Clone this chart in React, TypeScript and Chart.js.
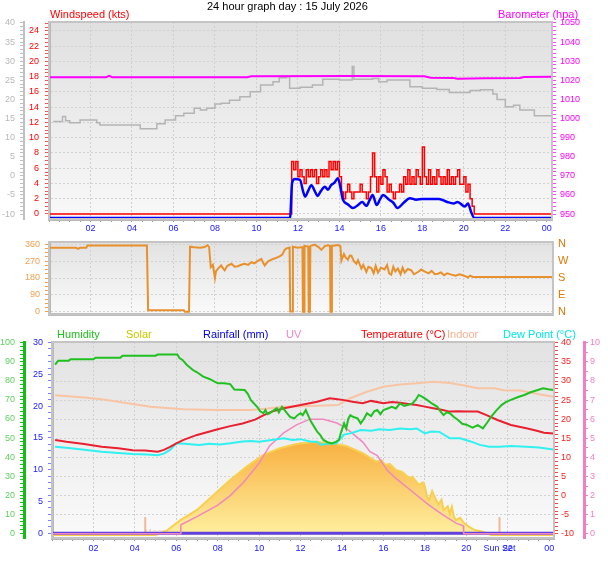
import { useEffect, useRef } from "react";
import { Chart, registerables } from "chart.js";

Chart.register(...registerables);

const FONT = '"Liberation Sans", Arial, Helvetica, sans-serif';

// All readings are [hour of day, value]

// ---- wind / barometer panel ----
const BAROMETER_HPA: [number, number][] = [
  [0, 1021.6], [2.75, 1021.6], [2.9, 1022.3], [3.05, 1021.6], [9.55, 1021.6], [9.75, 1022.1],
  [14.5, 1022.2], [18.1, 1022.1], [18.4, 1021.3], [19.5, 1021.2], [19.7, 1020.8], [21.0, 1021.0],
  [22.7, 1021.2], [22.9, 1021.7], [24.25, 1021.8],
];

// grey trace on the -10..40 scale
const GREY_TRACE: [number, number][] = [
  [0.2, 14.2], [0.55, 14.2], [0.65, 15.5], [0.8, 14.4], [1.0, 13.9], [1.5, 14.6], [2.3, 13.9],
  [2.45, 13.3], [3.3, 13.3], [4.4, 12.3], [5.2, 13.6], [5.6, 14.6], [6.1, 15.7], [6.5, 16.4],
  [7.0, 17.7], [7.3, 17.2], [7.6, 17.7], [8.0, 18.8], [8.3, 19.0], [8.7, 19.8], [9.2, 20.7],
  [9.7, 22.0], [10.2, 23.8], [10.8, 24.6], [11.1, 25.7], [11.45, 25.9], [11.6, 22.9], [12.1, 23.2],
  [12.7, 23.8], [13.2, 25.3], [13.7, 25.3], [14.0, 25.1], [14.55, 25.1], [14.62, 28.6], [14.7, 25.3],
  [15.0, 25.3], [15.6, 25.5], [15.9, 24.6], [16.3, 25.1], [16.9, 25.1], [17.4, 23.3], [18.0, 22.9],
  [18.7, 22.6], [19.3, 21.8], [20.3, 22.3], [20.8, 22.5], [21.4, 21.4], [21.6, 20.0], [22.0, 18.1],
  [22.4, 18.5], [22.7, 17.2], [23.4, 15.7], [24.25, 15.7],
];

// gusts every 6 minutes while the wind blew
const GUST_START = 11.7;
const GUST_STEP = 0.1;
const GUST_KTS = [
  6.9, 5.8, 6.9, 4.9, 5.8, 4.9, 4.0, 5.8, 4.9, 5.8, 4.9, 5.8, 4.0, 4.9, 5.8, 4.9, 5.8, 4.9, 6.9, 5.8,
  6.9, 5.8, 6.9, 4.9, 2.9, 2.0, 2.9, 3.9, 2.9, 2.0, 2.9, 2.9, 2.9, 3.9, 2.9, 2.9, 2.0, 2.9, 4.9, 8.0,
  4.9, 2.9, 4.9, 3.9, 5.8, 4.9, 2.9, 3.9, 2.9, 2.0, 2.9, 2.9, 3.9, 2.9, 4.9, 3.9, 5.8, 3.9, 4.9, 3.9,
  5.8, 4.9, 3.9, 8.8, 4.9, 3.9, 5.8, 3.9, 4.9, 3.9, 5.8, 4.9, 3.9, 4.9, 3.9, 5.8, 3.9, 4.9, 3.9, 4.9,
  5.8, 3.9, 3.9, 4.9, 2.9, 3.9, 2.0, 1.0, 0,
];
const GUST_CALM: [number, number][] = [[0, 0], [11.64, 0]];
const GUST_AFTER: [number, number][] = [[24.25, 0]];

const AVG_KTS: [number, number][] = [
  [0, 0], [11.62, 0], [11.72, 4.6], [11.85, 5.1], [12.1, 5.0], [12.25, 3.5], [12.35, 2.8],
  [12.5, 3.6], [12.65, 4.3], [12.8, 3.6], [12.96, 2.9], [13.1, 3.5], [13.3, 4.1], [13.45, 3.7],
  [13.6, 4.3], [13.75, 4.6], [13.93, 5.2], [14.05, 4.0], [14.17, 2.4], [14.4, 1.8], [14.65, 1.3],
  [14.9, 1.7], [15.1, 2.1], [15.3, 1.6], [15.45, 2.3], [15.6, 3.0], [15.8, 1.7], [15.95, 2.4],
  [16.1, 3.0], [16.4, 2.4], [16.6, 2.0], [16.8, 1.3], [17.1, 2.0], [17.4, 2.6], [17.7, 2.4],
  [18.0, 2.5], [18.5, 2.5], [18.8, 2.5], [19.2, 2.1], [19.5, 1.9], [19.7, 2.1], [20.05, 1.5],
  [20.2, 1.9], [20.35, 0.8], [20.5, 0], [24.25, 0],
];

// ---- wind direction panel ----
const WIND_DIR_DEG: [number, number][] = [
  [0, 342], [1.3, 342], [1.4, 335], [1.5, 342], [1.8, 342], [1.85, 353], [4.72, 353], [4.78, 8],
  [6.5, 8], [6.55, 0], [6.75, 0], [6.8, 347], [7.0, 344], [7.3, 342], [7.5, 345], [7.64, 355],
  [7.72, 345], [7.8, 238], [7.9, 250], [8.0, 180], [8.05, 215], [8.15, 230], [8.3, 247], [8.4, 230],
  [8.47, 221], [8.6, 245], [8.8, 256], [8.95, 240], [9.1, 243], [9.3, 252], [9.44, 256], [9.6, 250],
  [9.76, 264], [9.9, 258], [10.05, 270], [10.24, 282], [10.32, 262], [10.4, 247], [10.55, 268],
  [10.72, 278], [10.9, 285], [11.12, 295], [11.25, 305], [11.36, 330], [11.45, 338], [11.6, 342],
  [11.63, 2], [11.74, 2], [11.76, 347], [12.0, 342], [12.22, 345], [12.24, 0], [12.3, 0], [12.32, 351],
  [12.5, 348], [12.52, 0], [12.58, 0], [12.6, 350], [12.81, 358], [13.0, 345], [13.13, 330],
  [13.3, 350], [13.45, 355], [13.55, 352], [13.57, 0], [13.62, 0], [13.64, 351], [13.93, 356],
  [14.05, 350], [14.1, 273], [14.22, 308], [14.3, 290], [14.41, 278], [14.5, 300], [14.58, 299],
  [14.7, 270], [14.82, 256], [14.9, 275], [15.06, 230], [15.15, 250], [15.3, 212], [15.4, 240],
  [15.54, 233], [15.65, 205], [15.75, 245], [15.86, 209], [16.0, 235], [16.18, 226], [16.3, 250],
  [16.4, 205], [16.5, 198], [16.6, 240], [16.7, 215], [16.82, 230], [16.95, 200], [17.05, 235],
  [17.15, 209], [17.3, 228], [17.47, 221], [17.6, 200], [17.79, 212], [17.95, 225], [18.1, 215],
  [18.3, 205], [18.45, 218], [18.6, 200], [18.75, 203], [18.9, 210], [19.05, 195], [19.2, 205],
  [19.4, 198], [19.6, 192], [19.8, 200], [20.04, 191], [20.2, 183], [20.3, 193], [20.44, 186],
  [24.3, 186],
];
const COMPASS: Record<number, string> = { 0: "N", 90: "E", 180: "S", 270: "W", 360: "N" };

// ---- humidity / temperature panel ----
const HUMIDITY_PCT: [number, number][] = [
  [0.15, 88.5], [0.3, 90.6], [0.8, 90.6], [0.9, 91.3], [2.0, 91.3], [2.1, 92.1], [3.3, 92.1],
  [3.4, 93.2], [5.0, 93.2], [5.1, 93.8], [6.05, 93.8], [6.15, 92], [6.3, 91], [6.5, 88.5], [6.8, 85.7],
  [7.0, 84.5], [7.3, 82.2], [7.6, 81], [8.0, 78.7], [8.3, 78.8], [8.6, 78.3], [8.8, 75.5], [9.3, 75.2],
  [9.45, 73.2], [9.6, 69.9], [9.9, 66.4], [10.05, 64], [10.2, 63], [10.3, 64.7], [10.4, 62.5],
  [10.5, 63], [10.7, 64.5], [10.85, 65.6], [10.95, 63.5], [11.1, 66.4], [11.2, 65], [11.35, 63],
  [11.5, 61], [11.7, 60.3], [11.85, 62], [12.0, 63], [12.1, 62], [12.25, 64.7], [12.4, 61],
  [12.5, 58.6], [12.65, 56], [12.8, 53.3], [12.95, 51.5], [13.1, 49], [13.3, 47.8], [13.5, 47.2],
  [13.7, 48], [13.85, 49], [13.95, 53], [14.1, 57.7], [14.2, 55], [14.3, 60], [14.4, 62], [14.55, 61],
  [14.75, 60.3], [14.9, 57.7], [15.05, 60], [15.2, 63], [15.4, 61.5], [15.55, 64], [15.7, 64.7],
  [15.85, 62.5], [16.0, 64.7], [16.2, 65.5], [16.4, 66.4], [16.6, 65.5], [16.8, 68.2], [17.0, 66.8],
  [17.2, 67.5], [17.4, 68.2], [17.55, 70], [17.7, 72.6], [17.9, 71.5], [18.1, 70], [18.35, 68],
  [18.6, 66.4], [18.75, 64], [18.9, 62], [19.05, 63.5], [19.2, 63], [19.4, 61], [19.6, 59.5],
  [19.8, 57.5], [20.0, 57], [20.3, 55.5], [20.55, 56.8], [20.8, 55.1], [21.0, 58], [21.2, 61.2],
  [21.45, 64.5], [21.7, 67.3], [21.9, 68.8], [22.15, 70], [22.5, 71.5], [22.8, 72.6], [23.1, 74],
  [23.45, 75.2], [23.7, 76.1], [23.95, 75.6], [24.2, 75.2],
];

const TEMPERATURE_C: [number, number][] = [
  [0.15, 14.6], [0.7, 14.1], [1.55, 13.5], [2.4, 12.8], [3.2, 12.4], [3.9, 11.9], [4.5, 11.8],
  [5.1, 11.5], [5.4, 12.0], [5.7, 12.8], [6.0, 13.7], [6.35, 14.6], [7.0, 15.9], [8.0, 17.4],
  [8.6, 18.2], [9.2, 18.9], [9.8, 19.9], [10.2, 21.0], [10.6, 22.0], [11.2, 22.9], [12.0, 23.7],
  [12.8, 24.6], [13.4, 25.5], [13.7, 25.3], [14.1, 25.0], [14.5, 24.6], [15.0, 24.2], [15.4, 24.8],
  [16.0, 24.2], [16.4, 24.5], [16.8, 24.3], [17.2, 24.0], [17.6, 23.7], [18.0, 23.3], [18.4, 22.9],
  [18.8, 22.5], [19.2, 22.0], [19.6, 22.1], [20.0, 22.0], [20.55, 22.0], [21.0, 21.0], [21.5, 19.8],
  [22.15, 18.5], [22.95, 17.6], [23.4, 17.0], [23.75, 16.5], [24.2, 16.3],
];

const DEW_POINT_C: [number, number][] = [
  [0.15, 12.8], [0.8, 12.5], [1.55, 12.0], [2.4, 11.5], [3.2, 11.2], [3.9, 10.9], [4.6, 10.8],
  [5.1, 10.6], [5.4, 11.0], [5.7, 12.0], [6.0, 13.7], [6.4, 13.6], [7.1, 13.3], [7.6, 13.6],
  [8.1, 13.4], [8.6, 13.7], [9.2, 14.2], [9.6, 14.3], [10.0, 14.1], [10.6, 14.6], [11.2, 15.0],
  [11.6, 14.6], [12.0, 14.8], [12.5, 14.1], [12.8, 14.1], [13.0, 13.3], [13.4, 13.7], [13.7, 13.6],
  [14.1, 16.0], [14.4, 16.3], [14.9, 17.2], [15.4, 17.0], [15.8, 17.4], [16.3, 17.2], [16.8, 17.6],
  [17.3, 17.4], [17.6, 17.6], [18.0, 16.3], [18.3, 16.8], [18.7, 16.7], [19.2, 15.0], [19.7, 15.0],
  [20.2, 14.2], [20.65, 13.3], [21.1, 12.8], [21.6, 12.8], [22.15, 13.0], [22.9, 12.8], [23.5, 12.6],
  [24.2, 12.1],
];

const INDOOR_C: [number, number][] = [
  [0.15, 26.3], [1.55, 25.7], [2.4, 25.2], [3.9, 24.0], [4.75, 23.3], [6.35, 22.6], [8.0, 22.4],
  [9.6, 22.4], [10.4, 22.8], [11.2, 23.3], [12.8, 23.5], [13.8, 23.7], [14.4, 25.5], [15.2, 27.2],
  [16.0, 28.5], [16.8, 29.1], [17.6, 29.4], [18.4, 29.8], [19.2, 29.5], [19.9, 28.8], [20.55, 28.1],
  [21.35, 28.1], [21.8, 27.6], [22.6, 27.5], [23.45, 26.6], [24.2, 25.9],
];

const UV_INDEX: [number, number][] = [
  [0, 0], [6.2, 0], [6.22, 0.47], [7.0, 0.9], [8.0, 1.5], [8.6, 2.0], [9.25, 2.7], [10.0, 3.7],
  [10.5, 4.6], [11.2, 5.3], [11.8, 5.7], [12.45, 6.0], [13.1, 6.0], [13.75, 5.8], [14.1, 5.6],
  [14.4, 5.35], [15.0, 4.8], [15.35, 4.3], [15.7, 4.1], [16.2, 3.3], [16.6, 2.9], [17.4, 2.2],
  [18.2, 1.5], [18.85, 1.0], [19.5, 0.56], [19.85, 0.42], [19.87, 0], [24.2, 0],
];

const SOLAR_WM2: [number, number][] = [
  [0, 0], [5.0, 0], [5.5, 20], [6.2, 78], [7.0, 131], [7.8, 209], [8.6, 288], [9.4, 358],
  [10.2, 419], [11.0, 454], [11.8, 476], [12.6, 487], [13.4, 483], [14.2, 466], [15.0, 428],
  [15.65, 384], [15.9, 392], [16.1, 366], [16.3, 372], [16.6, 340], [16.9, 330], [17.25, 297],
  [17.4, 305], [17.7, 262], [17.9, 275], [18.0, 253], [18.1, 200], [18.2, 183], [18.35, 230],
  [18.5, 192], [18.65, 160], [18.8, 185], [18.9, 131], [19.1, 150], [19.2, 110], [19.3, 148],
  [19.4, 95], [19.5, 78], [19.7, 90], [19.9, 61], [20.1, 45], [20.4, 26], [20.7, 20], [21.0, 9],
  [21.2, 0], [24.2, 0],
];

const RAINFALL_MM: [number, number][] = [[0, 0], [24.2, 0]];

const MOON_RISE = 4.5;
const SUN_SET = 21.6;

// ---- helpers ----
const pts = (r: [number, number][]) => r.map(([x, y]) => ({ x, y }));
const steps = (a: number, b: number, s: number) => {
  const out: number[] = [];
  for (let v = a; v <= b + 1e-9; v += s) out.push(Math.round(v * 100) / 100);
  return out;
};
const isMult = (v: number, m: number) => Math.abs(v / m - Math.round(v / m)) < 1e-6;
const HOUR_TICKS = steps(0, 24, 0.5);
const hourLabel = (v: number) => (v > 0 && isMult(v, 2) ? String(v % 24).padStart(2, "0") : "");

function xAxis(max: number, height: number, showTicks: boolean, pad = 1) {
  return {
    type: "linear",
    min: 0,
    max,
    bounds: "data",
    afterBuildTicks: (s: any) => {
      s.ticks = HOUR_TICKS.map((value) => ({ value }));
    },
    afterFit: (s: any) => {
      s.height = height;
    },
    ticks: {
      display: showTicks,
      autoSkip: false,
      maxRotation: 0,
      color: "#2020ff",
      font: { family: FONT, size: 9 },
      padding: pad,
      callback: (v: number) => hourLabel(v),
    },
    grid: {
      color: (c: any) =>
        c.tick && isMult(c.tick.value, 2) && c.tick.value > 0 && c.tick.value < 24 ? "#cfcfcf" : "rgba(0,0,0,0)",
      tickColor: "#9a9a9a",
      tickLength: 3,
      drawTicks: showTicks,
    },
    border: { color: "#b8b8b8", width: 3, dash: [2, 2] },
  };
}

type AxisDef = {
  pos: "left" | "right";
  weight: number;
  min: number;
  max: number;
  ticks: number[];
  every?: number;
  labels?: (v: number) => string;
  color: string;
  tickColor: string;
  width: number;
  border: string;
  borderWidth: number;
  grid?: number;
  size?: number;
  padding?: number;
  tickLength?: number;
};

function yAxis(o: AxisDef) {
  const tl = o.tickLength ?? 4;
  return {
    type: "linear",
    position: o.pos,
    weight: o.weight,
    min: o.min,
    max: o.max,
    bounds: "data",
    afterBuildTicks: (s: any) => {
      s.ticks = o.ticks.map((value) => ({ value }));
    },
    afterFit: (s: any) => {
      s.width = o.width;
    },
    ticks: {
      autoSkip: false,
      color: o.color,
      font: { family: FONT, size: o.size ?? 9 },
      padding: o.padding ?? 4,
      callback: (v: number) => (o.labels ? o.labels(v) : isMult(v, o.every ?? 1) ? String(v) : ""),
    },
    grid: {
      drawOnChartArea: !!o.grid,
      color: (c: any) => (o.grid && c.tick && isMult(c.tick.value, o.grid) ? "#d2d2d2" : "rgba(0,0,0,0)"),
      tickColor: o.tickColor,
      tickLength: tl,
      drawTicks: tl > 0,
    },
    border: { color: o.border, width: o.borderWidth, dash: [2, 2] },
  };
}

const panelPlugin = {
  id: "panel",
  beforeDraw(chart: any, _a: any, o: any) {
    const { ctx, chartArea: a } = chart;
    const g = ctx.createLinearGradient(0, a.top, 0, a.bottom);
    g.addColorStop(0, o.top || "#e2e2e2");
    g.addColorStop(1, o.bottom || "#fafafa");
    ctx.save();
    ctx.fillStyle = g;
    ctx.fillRect(a.left, a.top, a.right - a.left, a.bottom - a.top);
    ctx.restore();
  },
  beforeDatasetsDraw(chart: any, _a: any, o: any) {
    if (!o.events) return;
    const { ctx } = chart;
    const x = chart.scales.x;
    const base = chart.scales.ySolar.getPixelForValue(0);
    ctx.save();
    for (const ev of o.events) {
      const px = x.getPixelForValue(ev.time);
      ctx.strokeStyle = "#f4b898";
      ctx.lineWidth = 2;
      ctx.beginPath();
      ctx.moveTo(px, base);
      ctx.lineTo(px, base - o.markerHeight);
      ctx.stroke();
      if (ev.inside) {
        ctx.fillStyle = "rgba(240,170,140,0.6)";
        ctx.font = `9px ${FONT}`;
        ctx.textAlign = "left";
        ctx.textBaseline = "middle";
        ctx.fillText(ev.inside, px - 1, base - 2);
      }
    }
    ctx.restore();
  },
  afterDraw(chart: any, _a: any, o: any) {
    const { ctx, chartArea: a } = chart;
    ctx.save();
    ctx.strokeStyle = "#c4c4c4";
    ctx.lineWidth = 2;
    ctx.strokeRect(a.left, a.top, a.right - a.left, a.bottom - a.top);
    if (o.events) {
      const x = chart.scales.x;
      ctx.fillStyle = "#2020ff";
      ctx.font = `9px ${FONT}`;
      ctx.textAlign = "center";
      ctx.textBaseline = "top";
      for (const ev of o.events) {
        if (ev.axis) ctx.fillText(ev.axis, x.getPixelForValue(ev.time), x.top + 6);
      }
    }
    ctx.restore();
  },
};

const common = {
  responsive: false,
  animation: false,
  events: [],
  elements: { point: { radius: 0 } },
};

export default function App() {
  const topRef = useRef<HTMLCanvasElement>(null);
  const midRef = useRef<HTMLCanvasElement>(null);
  const botRef = useRef<HTMLCanvasElement>(null);

  useEffect(() => {
    const charts: Chart[] = [];

    // Windspeed + barometer
    if (topRef.current) {
      const gustPts = [
        ...pts(GUST_CALM),
        ...GUST_KTS.map((y, i) => ({ x: GUST_START + i * GUST_STEP, y })),
        ...pts(GUST_AFTER),
      ];
      charts.push(
        new Chart(topRef.current, {
          type: "line",
          data: {
            datasets: [
              { data: pts(AVG_KTS), yAxisID: "yAvg", borderColor: "#0000ff", borderWidth: 2.5, cubicInterpolationMode: "monotone" },
              { data: gustPts, yAxisID: "yWind", borderColor: "#ff0000", borderWidth: 1.5, stepped: true },
              { data: pts(BAROMETER_HPA), yAxisID: "yBaro", borderColor: "#ff00ff", borderWidth: 2 },
              { data: pts(GREY_TRACE), yAxisID: "yGrey", borderColor: "#b4b4b4", borderWidth: 1.5, stepped: true },
            ],
          } as any,
          options: {
            ...common,
            layout: { padding: { top: 22, bottom: 0, left: 0, right: 0 } },
            plugins: { legend: { display: false }, tooltip: { enabled: false }, panel: { top: "#e0e0e0", bottom: "#f8f8f8" } },
            scales: {
              x: xAxis(24.25, 21, true, 1),
              yGrey: yAxis({ pos: "left", weight: 2, min: -11.3, max: 40.26, ticks: steps(-10, 40, 1), every: 5, color: "#b8b8b8", tickColor: "#c0c0c0", width: 24, border: "#c0c0c0", borderWidth: 2, padding: 5 }),
              yWind: yAxis({ pos: "left", weight: 1, min: -0.656, max: 25.18, ticks: steps(0, 25, 0.5), every: 2, color: "#ff0000", tickColor: "#ff5050", width: 25, border: "#b8b8b8", borderWidth: 3, grid: 2, padding: 6 }),
              yBaro: yAxis({ pos: "right", weight: 1, min: 947.4, max: 1050.5, ticks: steps(950, 1050, 2), every: 10, color: "#ff00ff", tickColor: "#ff40ff", width: 56, border: "#c0c0c0", borderWidth: 2, padding: 4 }),
              yAvg: { type: "linear", display: false, min: -0.131, max: 25.7 },
            },
          } as any,
          plugins: [panelPlugin as any],
        })
      );
    }

    // Wind direction
    if (midRef.current) {
      charts.push(
        new Chart(midRef.current, {
          type: "line",
          data: {
            datasets: [{ data: pts(WIND_DIR_DEG), yAxisID: "yDir", borderColor: "#e8902c", borderWidth: 2 }],
          } as any,
          options: {
            ...common,
            layout: { padding: { top: 16, bottom: 10, left: 0, right: 0 } },
            plugins: { legend: { display: false }, tooltip: { enabled: false }, panel: { top: "#e2e2e2", bottom: "#fafafa" } },
            scales: {
              x: xAxis(24.3, 0, false),
              yDir: yAxis({ pos: "left", weight: 1, min: -14, max: 372, ticks: steps(0, 360, 22.5), every: 90, color: "#f0a050", tickColor: "#f0a050", width: 49, border: "#b8b8b8", borderWidth: 3, grid: 90, padding: 5 }),
              yDirR: yAxis({ pos: "right", weight: 1, min: -14, max: 372, ticks: [0, 90, 180, 270, 360], labels: (v) => COMPASS[v] ?? "", color: "#e07800", tickColor: "#e07800", width: 55, border: "#c0c0c0", borderWidth: 2, size: 11, padding: 5, tickLength: 0 }),
            },
          } as any,
          plugins: [panelPlugin as any],
        })
      );
    }

    // Humidity, solar, rain, UV, temperatures
    if (botRef.current) {
      charts.push(
        new Chart(botRef.current, {
          type: "line",
          data: {
            datasets: [
              { data: pts(HUMIDITY_PCT), yAxisID: "yHum", borderColor: "#20c020", borderWidth: 2 },
              { data: pts(TEMPERATURE_C), yAxisID: "yTemp", borderColor: "#e82030", borderWidth: 2 },
              { data: pts(DEW_POINT_C), yAxisID: "yTemp", borderColor: "#30f0f0", borderWidth: 2 },
              { data: pts(UV_INDEX), yAxisID: "yUV", borderColor: "#f088c0", borderWidth: 1.5 },
              { data: pts(INDOOR_C), yAxisID: "yTemp", borderColor: "#f8c4a4", borderWidth: 2 },
              { data: pts(RAINFALL_MM), yAxisID: "yRain", borderColor: "#6040e0", borderWidth: 3 },
              {
                data: pts(SOLAR_WM2),
                yAxisID: "ySolar",
                borderColor: "#f8d050",
                borderWidth: 2,
                fill: "origin",
                backgroundColor: (c: any) => {
                  const { chart } = c;
                  if (!chart.chartArea) return "#f8c060";
                  const y = chart.scales.ySolar;
                  const g = chart.ctx.createLinearGradient(0, y.getPixelForValue(490), 0, y.getPixelForValue(0));
                  g.addColorStop(0, "#f8b040");
                  g.addColorStop(1, "#fff0a0");
                  return g;
                },
              },
            ],
          } as any,
          options: {
            ...common,
            layout: { padding: { top: 20, bottom: 0, left: 0, right: 0 } },
            plugins: {
              legend: { display: false },
              tooltip: { enabled: false },
              panel: {
                top: "#e2e2e2",
                bottom: "#fafafa",
                markerHeight: 18,
                events: [
                  { time: MOON_RISE, inside: "Moon rise" },
                  { time: SUN_SET, axis: "Sun Set" },
                ],
              },
            },
            scales: {
              x: xAxis(24.23, 23, true, 2),
              yHum: yAxis({ pos: "left", weight: 2, min: -2.47, max: 100.4, ticks: steps(0, 100, 2), every: 10, color: "#60d060", tickColor: "#20c020", width: 24, border: "#10c010", borderWidth: 3, padding: 5 }),
              yRain: yAxis({ pos: "left", weight: 1, min: -0.74, max: 30.1, ticks: steps(0, 30, 1), every: 5, color: "#2020ff", tickColor: "#8080ff", width: 28, border: "#b8b8b8", borderWidth: 3, padding: 5 }),
              yTemp: yAxis({ pos: "right", weight: 1, min: -11.05, max: 40.2, ticks: steps(-10, 40, 1), every: 5, color: "#ff2020", tickColor: "#ff4040", width: 30, border: "#c0c0c0", borderWidth: 2, grid: 5, padding: 3 }),
              yUV: yAxis({ pos: "right", weight: 2, min: -0.22, max: 10.04, ticks: steps(0, 10, 0.5), every: 1, color: "#f080c0", tickColor: "#f080c0", width: 24, border: "#f080c0", borderWidth: 3, padding: 2 }),
              ySolar: { type: "linear", display: false, min: -15.7, max: 1010 },
            },
          } as any,
          plugins: [panelPlugin as any],
        })
      );
    }

    return () => charts.forEach((c) => c.destroy());
  }, []);

  const text = (left: number, top: number, color: string, size = 11) => ({
    position: "absolute" as const,
    left,
    top,
    color,
    fontSize: size,
    lineHeight: "12px",
    whiteSpace: "nowrap" as const,
  });
  const cv = (top: number, height: number) => ({ position: "absolute" as const, left: 0, top, width: 608, height });

  return (
    <div style={{ position: "absolute", left: 0, top: 0, width: 608, height: 561, background: "#fff", fontFamily: FONT, overflow: "hidden" }}>
      <canvas ref={topRef} width={608} height={240} style={cv(0, 240)} />
      <canvas ref={midRef} width={608} height={100} style={cv(226, 100)} />
      <canvas ref={botRef} width={608} height={239} style={cv(322, 239)} />

      <span style={text(207, 0, "#000")}>24 hour graph day : 15 July 2026</span>
      <span style={text(50, 8, "#ff0000")}>Windspeed (kts)</span>
      <span style={text(498, 8, "#ff00ff")}>Barometer (hpa)</span>

      <span style={text(57, 328, "#20c020")}>Humidity</span>
      <span style={text(126, 328, "#c8c800")}>Solar</span>
      <span style={text(203, 328, "#0000e0")}>Rainfall (mm)</span>
      <span style={text(286, 328, "#f088c8")}>UV</span>
      <span style={text(361, 328, "#ff0000")}>Temperature (°C)</span>
      <span style={text(447, 328, "#f8b090")}>Indoor</span>
      <span style={text(503, 328, "#00e8e8")}>Dew Point (°C)</span>
    </div>
  );
}
